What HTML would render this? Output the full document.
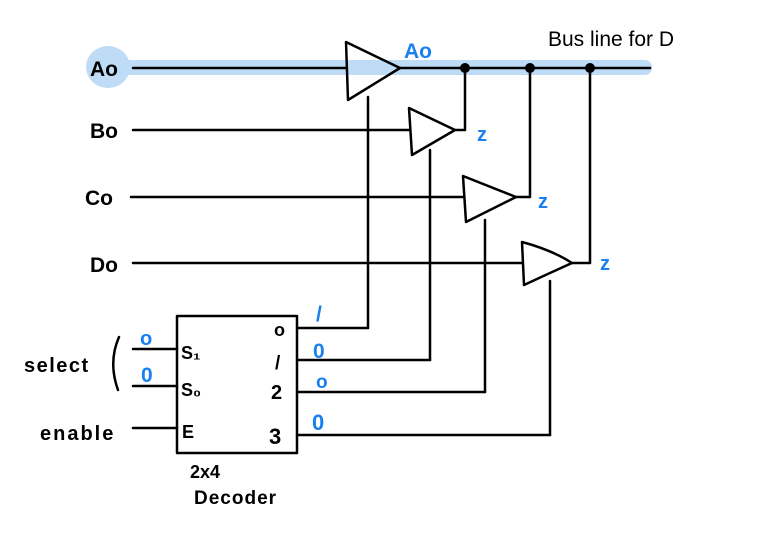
<!DOCTYPE html>
<html><head><style>
html,body{margin:0;padding:0;background:#fff;width:773px;height:538px;overflow:hidden}
svg{display:block}
text{font-family:"Liberation Sans",sans-serif}
</style></head><body>
<svg width="773" height="538" viewBox="0 0 773 538" xmlns="http://www.w3.org/2000/svg">
<rect x="98" y="60" width="554" height="15" rx="7" fill="#bfdcf7"/>
<ellipse cx="108" cy="67" rx="22" ry="21" fill="#bfdcf7"/>
<g stroke="#000" stroke-width="2.5" fill="none" stroke-linecap="round" stroke-linejoin="round">
<line x1="133" y1="68" x2="346" y2="68"/>
<path d="M346 42 L400 68 L348 100 Z"/>
<line x1="400" y1="68" x2="650" y2="68"/>
<line x1="133" y1="130" x2="409" y2="130"/>
<path d="M409 108 L455 130 L412 155 Z"/>
<polyline points="455,130 465,130 465,68"/>
<line x1="131" y1="197" x2="463" y2="197"/>
<path d="M463 176 L516 197 L466 222 Z"/>
<polyline points="516,197 530,197 530,68"/>
<line x1="133" y1="263" x2="522" y2="263"/>
<path d="M522 242 Q552 250 572 263 Q552 272 524 285 Z"/>
<polyline points="572,263 590,263 590,68"/>
<line x1="368" y1="97" x2="368" y2="328"/>
<line x1="430" y1="150" x2="430" y2="360"/>
<line x1="485" y1="220" x2="485" y2="392"/>
<line x1="550" y1="281" x2="550" y2="435"/>
<rect x="177" y="316" width="120" height="137"/>
<polyline points="297,328 368,328"/>
<polyline points="297,360 430,360"/>
<polyline points="297,392 485,392"/>
<polyline points="297,435 550,435"/>
<line x1="133" y1="349" x2="177" y2="349"/>
<line x1="133" y1="386" x2="177" y2="386"/>
<line x1="133" y1="428" x2="177" y2="428"/>
<path d="M119 337 Q108 362 118 390"/>
</g>
<g fill="#000"><circle cx="465" cy="68" r="5"/><circle cx="530" cy="68" r="5"/><circle cx="590" cy="68" r="5"/></g>
<g font-size="21" fill="#000" font-weight="bold">
<text x="90" y="76">Ao</text>
<text x="90" y="138">Bo</text>
<text x="85" y="205">Co</text>
<text x="90" y="272">Do</text>
<text x="548" y="46" font-weight="normal" font-size="21">Bus line for  D</text>
<text x="24" y="372" font-size="20" letter-spacing="1.5">select</text>
<text x="40" y="440" font-size="20" letter-spacing="2">enable</text>
<text x="181" y="359" font-size="18">S₁</text>
<text x="181" y="396" font-size="18">S₀</text>
<text x="182" y="438" font-size="18">E</text>
<text x="274" y="336" font-size="18">o</text>
<text x="275" y="369" font-size="19">/</text>
<text x="271" y="399" font-size="20">2</text>
<text x="269" y="444" font-size="22">3</text>
<text x="190" y="478" font-size="18">2x4</text>
<text x="194" y="504" font-size="19" letter-spacing="1">Decoder</text>
</g>
<g font-size="21" fill="#1a7ff0" font-weight="bold">
<text x="404" y="58">Ao</text>
<text x="477" y="141" font-size="20">z</text>
<text x="538" y="208" font-size="20">z</text>
<text x="600" y="270" font-size="20">z</text>
<text x="140" y="345" font-size="20">o</text>
<text x="141" y="382" font-size="21">0</text>
<text x="316" y="321">/</text>
<text x="313" y="358">0</text>
<text x="316" y="388" font-size="19">o</text>
<text x="312" y="430" font-size="22">0</text>
</g>
</svg>
</body></html>
